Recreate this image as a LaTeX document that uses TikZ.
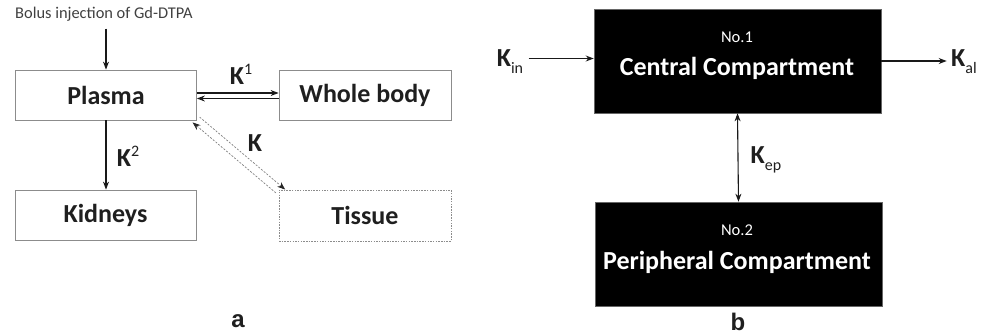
\documentclass[tikz,border=0pt]{standalone}
\usepackage{fontspec}
\setmainfont{Carlito}
\newfontfamily\panelfont{Liberation Sans}
\usetikzlibrary{arrows.meta,calc}

\newcommand{\ksup}[1]{\raisebox{10pt}{\fontsize{16}{16}\selectfont\mdseries #1}}
\newcommand{\ksub}[1]{\raisebox{-7pt}{\fontsize{16}{16}\selectfont\mdseries #1}}

\begin{document}
\begin{tikzpicture}[x=1pt, y=-1pt,
  every node/.style={font=\fontsize{26}{30}\selectfont\bfseries, text=black!88},
  box/.style={draw=black!45, line width=0.8pt, inner sep=0pt, minimum height=50pt},
  dotbox/.style={box, dash pattern=on 1.5pt off 1.2pt},
  comp/.style={fill=black, draw=black!60, line width=0.6pt, minimum width=287pt, minimum height=104pt, inner sep=0pt},
  inbox/.style={text=white},
  arr/.style={-{Stealth[length=8pt,width=6pt]}, line width=1.1pt, black!90},
  dashline/.style={-{Stealth[length=8pt,width=6pt,color=black!85]}, black!50, line width=0.7pt, dash pattern=on 2pt off 1.5pt},
  panel/.style={font=\fontsize{24}{28}\selectfont\panelfont\bfseries}]
  \useasboundingbox (0,0) rectangle (989,335);

  % panel a
  \node[font=\fontsize{16.4}{19}\selectfont, text=black!75] (bolus) at (104,14) {Bolus injection of Gd-DTPA};
  \node[box, minimum width=181pt] (plasma) at (106,95) {Plasma};
  \node[box, minimum width=172pt] (body) at (365,95) {Whole body};
  \node[box, minimum width=181pt] (kidneys) at (105.5,215) {Kidneys};
  \node[dotbox, minimum width=172pt, minimum height=51pt] (tissue) at (365,215.5) {Tissue};

  \draw[arr] (bolus.south -| plasma.north) ++(0,4) coordinate (inj) -- (plasma.north);
  \draw[arr] ([yshift=2pt]plasma.east) -- ([yshift=2pt]plasma.east -| body.west);
  \draw[arr] ([yshift=-3.5pt]body.west) -- ([yshift=-3.5pt]body.west -| plasma.east);
  \draw[arr] (plasma) -- (plasma.south |- kidneys.north);

  \coordinate (pc) at (plasma.south east);
  \coordinate (tc) at (tissue.north west);
  \draw[dashline, shorten >=-5pt] ($(pc)!4.3pt!90:(tc)$) -- ($(tc)!4.3pt!-90:(pc)$);
  \draw[dashline, shorten >=-2pt] ($(tc)!-4.3pt!-90:(pc)$) -- ($(pc)!-4.3pt!90:(tc)$);

  \node (k1) at (241,74) {K\ksup{1}};
  \node (k2) at (128,156) {K\ksup{2}};
  \node (k) at (255,143) {K};
  \node[panel] (a) at (238,321) {a};

  % panel b
  \node[comp] (central) at (737.5,61) {};
  \node[inbox, font=\fontsize{16.5}{19}\selectfont] (no1) at (737,37) {No.1};
  \node[inbox] (ctext) at (737,68) {Central Compartment};
  \node[comp] (peri) at (738.5,254) {};
  \node[inbox, font=\fontsize{16.5}{19}\selectfont] (no2) at (737,230) {No.2};
  \node[inbox] (ptext) at (737,262) {Peripheral Compartment};

  \node (kin) at (510,62) {K\ksub{in}};
  \node (kal) at (964,62) {K\ksub{al}};
  \node (kep) at (766,160) {K\ksub{ep}};

  \draw[arr] ([xshift=2pt]kin.east |- 0,58.5) -- (central.west |- 0,58.5);
  \draw[arr] (central.east) -- ([xshift=-1pt]kal.west |- central.east);
  \draw[arr, {Stealth[length=8pt,width=6pt]}-{Stealth[length=8pt,width=6pt]}] (central.south) -- (peri.north);
  \node[panel] (b) at (738,322) {b};
\end{tikzpicture}
\end{document}
